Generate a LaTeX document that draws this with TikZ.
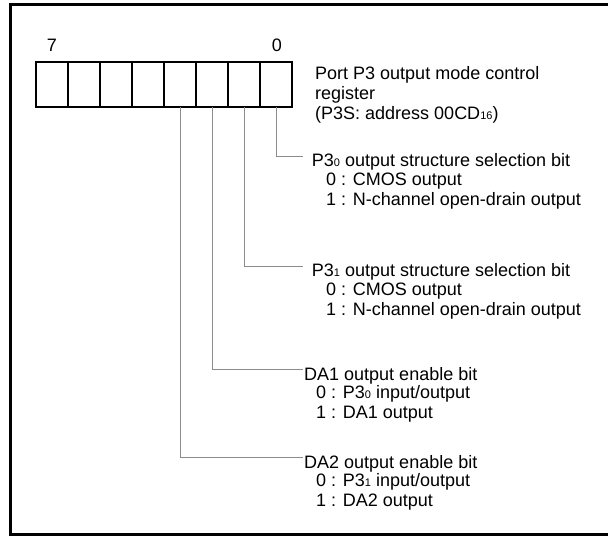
\documentclass[tikz,border=0pt]{standalone}
\usepackage{fontspec}
\setmainfont{Liberation Sans}
\usetikzlibrary{positioning}

\newcommand{\idx}[1]{{\fontsize{11}{11}\selectfont #1}}

\begin{document}
\begin{tikzpicture}[x=1pt, y=-1pt,
	font=\fontsize{18}{20}\selectfont,
	cell/.style={draw, line width=2pt, minimum width=32pt, minimum height=45.5pt, inner sep=0pt, outer sep=0pt},
	lead/.style={draw=black!45, line width=1pt},
	head/.style={anchor=base west, inner ysep=0pt, text height=10pt},
	opts/.style={anchor=base west, inner sep=0pt, align=left}]

	% \draw[help lines, step=10pt, gray!20] (0,0) grid (608,536);

	\useasboundingbox (0,0) rectangle (608,536);
	\draw[line width=3pt] (608,4) -- (10,4) -- (10,534) -- (608,534);

	\node[cell] (b7) at (52,84.25) {};
	\node[cell] (b6) [right = 0pt of b7] {};
	\node[cell] (b5) [right = 0pt of b6] {};
	\node[cell] (b4) [right = 0pt of b5] {};
	\node[cell] (b3) [right = 0pt of b4] {};
	\node[cell] (b2) [right = 0pt of b3] {};
	\node[cell] (b1) [right = 0pt of b2] {};
	\node[cell] (b0) [right = 0pt of b1] {};

	\node[anchor=base, inner sep=0pt] (hi) at (52,51) {7};
	\node[anchor=base, inner sep=0pt] (lo) at (277,51) {0};

	% multi-line nodes sit on the baseline of their last line
	\node[opts] (regname) at (315,119.5) {Port P3 output mode control\\register\\(P3S: address 00CD\idx{16})};

	\node[head, inner xsep=8.7pt] (p30sel) at (303,166.7) {P3\idx{0} output structure selection bit};
	\node[opts] (p30opt) at (326,205.2) {0 : CMOS output\\1 : N-channel open-drain output};

	\node[head, inner xsep=8.7pt] (p31sel) at (303,276.7) {P3\idx{1} output structure selection bit};
	\node[opts] (p31opt) at (326,315.2) {0 : CMOS output\\1 : N-channel open-drain output};

	\node[head, inner xsep=1pt] (da1en) at (303,380) {DA1 output enable bit};
	\node[opts] (da1opt) at (316,418.5) {0 : P3\idx{0} input/output\\1 : DA1 output};

	\node[head, inner xsep=1pt] (da2en) at (303,468) {DA2 output enable bit};
	\node[opts] (da2opt) at (316,506.5) {0 : P3\idx{1} input/output\\1 : DA2 output};

	\draw[lead] (b0.south) |- (p30sel.north west);
	\draw[lead] (b1.south) |- (p31sel.north west);
	\draw[lead] (b2.south) |- (da1en.north west);
	\draw[lead] (b3.south) |- (da2en.north west);

\end{tikzpicture}
\end{document}
